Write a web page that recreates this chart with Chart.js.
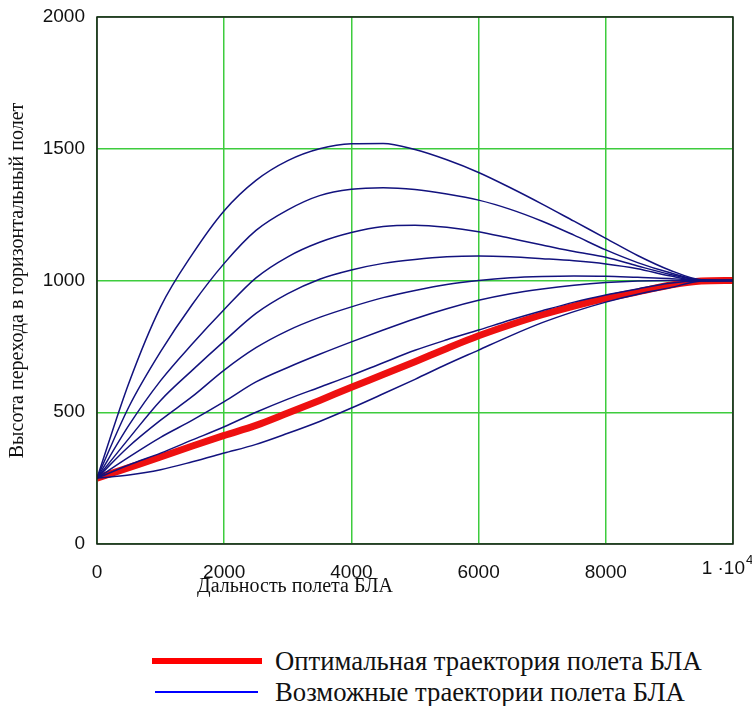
<!DOCTYPE html>
<html>
<head>
<meta charset="utf-8">
<script src="https://cdn.jsdelivr.net/npm/chart.js@4"></script>
<style>
  body { margin: 0; background: #fff; }
  #wrap { position: relative; width: 752px; height: 706px; }
  #chart { position: absolute; left: 0; top: 0; }
  .key { position: absolute; font-family: "Liberation Serif", serif; font-size: 26.7px; line-height: 30px; color: #111; white-space: nowrap; }
  .mark { position: absolute; }
</style>
</head>
<body>
<div id="wrap">
  <canvas id="chart" width="752" height="610"></canvas>
  <div class="mark" style="left:152px; top:658px; width:110px; height:6px; background:#f00;"></div>
  <div class="key" style="left:275px; top:646px;">Оптимальная траектория полета БЛА</div>
  <div class="mark" style="left:155px; top:691px; width:103px; height:2px; background:#0000ff;"></div>
  <div class="key" style="left:275px; top:677px;">Возможные траектории полета БЛА</div>
</div>
<script>
'use strict';

// distance along the route, m
const xs = [0, 500, 1000, 1500, 2000, 2500, 3000, 3500, 4000, 4500, 5000,
            5500, 6000, 6500, 7000, 7500, 8000, 8500, 9000, 9500, 10000];

// possible trajectories, top to bottom
const possible1 = [250, 610, 900, 1100, 1265, 1380, 1455, 1500, 1519, 1520, 1497,
                   1458, 1410, 1352, 1290, 1225, 1160, 1095, 1040, 1003, 1000];
const possible2 = [250, 520, 730, 910, 1065, 1190, 1268, 1322, 1346, 1352, 1345,
                   1328, 1305, 1270, 1225, 1172, 1116, 1068, 1030, 1002, 1000];
const possible3 = [250, 450, 620, 760, 890, 1010, 1090, 1145, 1182, 1205, 1210,
                   1202, 1185, 1160, 1135, 1110, 1088, 1055, 1024, 1001, 1000];
const possible4 = [250, 400, 545, 660, 770, 875, 950, 1005, 1040, 1065, 1080,
                   1090, 1093, 1090, 1083, 1075, 1063, 1045, 1018, 1000, 1000];
const possible5 = [250, 370, 470, 560, 660, 745, 810, 860, 900, 935, 962,
                   985, 1000, 1010, 1015, 1017, 1016, 1012, 1008, 1000, 1000];
const possible6 = [250, 330, 405, 470, 540, 615, 670, 720, 767, 812, 855,
                   893, 925, 950, 968, 982, 992, 998, 1000, 1000, 1000];
const possible7 = [250, 300, 345, 395, 445, 500, 550, 595, 640, 688, 735,
                   775, 812, 850, 885, 918, 945, 968, 990, 999, 1000];
const possible8 = [250, 262, 282, 312, 345, 378, 420, 465, 516, 570, 625,
                   682, 736, 790, 840, 882, 918, 948, 972, 998, 1000];

// optimal trajectory
const optimal = [250, 290, 330, 372, 412, 450, 497, 545, 595, 643, 692,
                 742, 790, 832, 870, 903, 932, 957, 982, 998, 1000];

const possibleSets = [possible1, possible2, possible3, possible4,
                      possible5, possible6, possible7, possible8];

function toPoints(arr) {
    return xs.map((x, i) => ({ x: x, y: arr[i] }));
}

const datasets = possibleSets.map((arr) => ({
    data: toPoints(arr),
    borderColor: '#12127e',
    borderWidth: 1.5,
    pointRadius: 0,
    cubicInterpolationMode: 'monotone',
    fill: false
}));

datasets.push({
    data: toPoints(optimal),
    borderColor: '#ee1010',
    borderWidth: 7,
    pointRadius: 0,
    cubicInterpolationMode: 'monotone',
    fill: false
});

const CANVAS_H = 610;
const LABEL_PAD = 17;

// black frame round the plot, the x axis title and the 1·10^4 label
const framePlugin = {
    id: 'frame',
    afterDraw(chart) {
        const a = chart.chartArea;
        const ctx = chart.ctx;
        ctx.save();
        ctx.strokeStyle = '#1a1a1a';
        ctx.lineWidth = 1.5;
        ctx.strokeRect(a.left, a.top, a.right - a.left, a.bottom - a.top);

        ctx.fillStyle = '#111';
        ctx.font = '20px "Liberation Serif"';
        ctx.textAlign = 'left';
        ctx.textBaseline = 'middle';
        ctx.fillText('Дальность полета БЛА', a.left + 100, a.bottom + 43);

        const xEnd = chart.scales.x.getPixelForValue(10000);
        const labelMid = a.bottom + LABEL_PAD + 8;
        ctx.font = '19px "Liberation Sans"';
        ctx.textAlign = 'right';
        ctx.fillText('1 ·10', xEnd + 12, labelMid);
        ctx.font = '13px "Liberation Sans"';
        ctx.textAlign = 'left';
        ctx.fillText('4', xEnd + 13, labelMid - 9);
        ctx.restore();
    }
};

const ctx = document.getElementById('chart').getContext('2d');
const chart = new Chart(ctx, {
    type: 'line',
    data: { datasets: datasets },
    plugins: [framePlugin],
    options: {
        responsive: false,
        animation: false,
        layout: { padding: { top: 17, right: 19, left: 0, bottom: 0 } },
        plugins: {
            legend: { display: false },
            tooltip: { enabled: false }
        },
        scales: {
            x: {
                type: 'linear',
                min: 0,
                max: 10000,
                ticks: {
                    stepSize: 2000,
                    color: '#111',
                    padding: LABEL_PAD,
                    maxRotation: 0,
                    font: { family: 'Liberation Sans', size: 19 },
                    callback: (v) => v === 10000 ? '' : String(v)
                },
                grid: { color: '#3dcc3d', lineWidth: 1.5, drawTicks: false },
                border: { display: false },
                afterFit(scale) {
                    scale.height = CANVAS_H - 544;
                    scale.paddingLeft = 0;
                    scale.paddingRight = 0;
                }
            },
            y: {
                min: 0,
                max: 2000,
                ticks: {
                    stepSize: 500,
                    color: '#111',
                    padding: 12,
                    font: { family: 'Liberation Sans', size: 19 },
                    callback: (v) => String(v)
                },
                grid: { color: '#3dcc3d', lineWidth: 1.5, drawTicks: false },
                border: { display: false },
                title: {
                    display: true,
                    text: 'Высота перехода в горизонтальный полет',
                    color: '#111',
                    font: { family: 'Liberation Serif', size: 20 },
                    padding: { top: 6, bottom: 0 }
                },
                afterFit(scale) {
                    scale.width = 97;
                    scale.paddingTop = 0;
                    scale.paddingBottom = 0;
                }
            }
        }
    }
});
</script>
</body>
</html>
